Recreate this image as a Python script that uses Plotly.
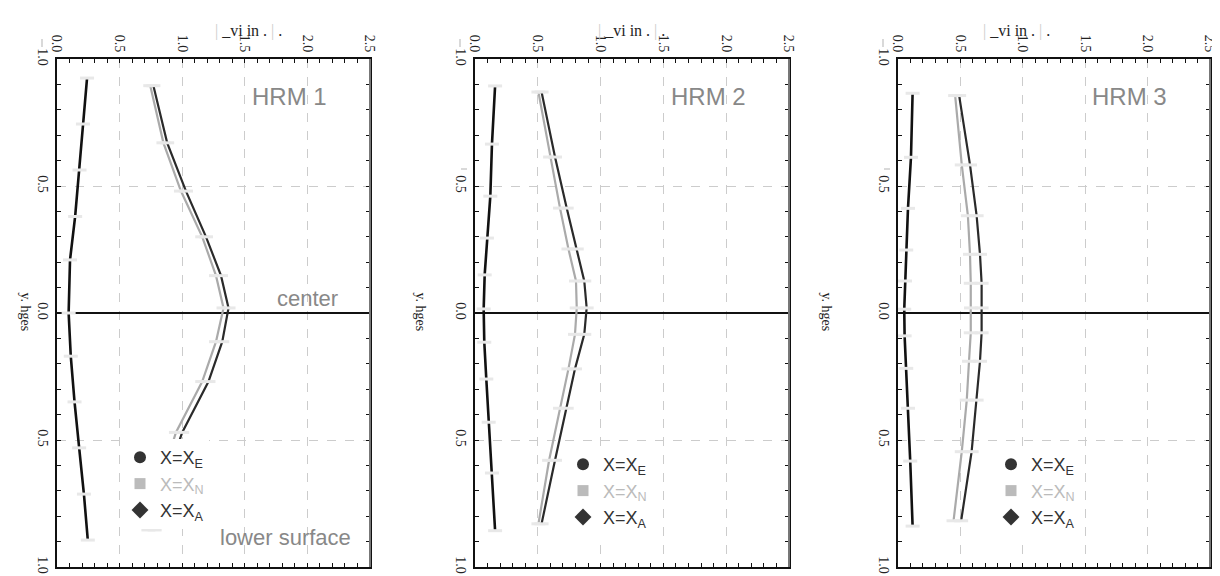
import plotly.graph_objects as go

# ---------------- data ----------------
panels = ["HRM 1", "HRM 2", "HRM 3"]
x_ticks = [0.0, 0.5, 1.0, 1.5, 2.0, 2.5]
x_ticktext = ["0.0", "0.5", "1.0", "1.5", "2.0", "2.5"]
y_ticks = [-1.0, -0.5, 0.0, 0.5, 1.0]
y_ticktext = ["1.0", "0.5", "0.0", "0.5", "1.0"]

p1_y_left = [0.925, 0.744, 0.563, 0.38, 0.209, 0.0, -0.17, -0.35, -0.531, -0.713, -0.894]
p1_x_left = [0.24, 0.207, 0.18, 0.145, 0.104, 0.093, 0.11, 0.14, 0.177, 0.215, 0.246]
p1_y_right = [0.895, 0.67, 0.48, 0.30, 0.147, 0.02, -0.113, -0.27, -0.47, -0.66, -0.854]
p1_dark = [0.77, 0.88, 1.03, 1.19, 1.31, 1.37, 1.32, 1.21, 1.0, 0.87, 0.78]
p1_gray = [0.745, 0.85, 0.99, 1.16, 1.27, 1.33, 1.27, 1.16, 0.95, 0.83, 0.73]

p2_y_left = [0.894, 0.665, 0.46, 0.295, 0.15, 0.016, -0.115, -0.26, -0.43, -0.63, -0.857]
p2_x_left = [0.16, 0.135, 0.122, 0.095, 0.077, 0.069, 0.074, 0.09, 0.109, 0.135, 0.16]
p2_y_right = [0.87, 0.614, 0.413, 0.252, 0.126, 0.02, -0.084, -0.22, -0.375, -0.58, -0.83]
p2_dark = [0.53, 0.637, 0.73, 0.81, 0.87, 0.889, 0.87, 0.796, 0.73, 0.637, 0.53]
p2_gray = [0.505, 0.598, 0.677, 0.744, 0.804, 0.81, 0.796, 0.744, 0.677, 0.59, 0.505]

p3_y_left = [0.865, 0.613, 0.412, 0.248, 0.126, 0.015, -0.09, -0.218, -0.375, -0.583, -0.839]
p3_x_left = [0.117, 0.104, 0.08, 0.066, 0.056, 0.05, 0.053, 0.066, 0.08, 0.098, 0.117]
p3_y_right = [0.856, 0.583, 0.383, 0.231, 0.117, 0.02, -0.078, -0.19, -0.343, -0.546, -0.818]
p3_dark = [0.49, 0.577, 0.63, 0.657, 0.67, 0.67, 0.67, 0.657, 0.63, 0.59, 0.506]
p3_gray = [0.458, 0.511, 0.56, 0.577, 0.583, 0.585, 0.583, 0.569, 0.551, 0.511, 0.445]

legend_names = ["X=X<sub>E</sub>", "X=X<sub>N</sub>", "X=X<sub>A</sub>"]

# ---------------- layout constants ----------------
OFF = 8
W, H = 1220 - OFF, 576 - OFF
T, B = 59 - OFF, 9
PH = H - T - B
px_domains = [(57, 370), (475, 789), (898, 1210)]
legend_px = [(120, 439), (563, 446), (991, 446)]
ylabel_px = [16, 411, 836]
title_px = [213, 631, 1052]

data_sets = [
    (p1_y_left, p1_x_left, p1_y_right, p1_dark, p1_gray),
    (p2_y_left, p2_x_left, p2_y_right, p2_dark, p2_gray),
    (p3_y_left, p3_x_left, p3_y_right, p3_dark, p3_gray),
]

fig = go.Figure()
SERIF = "Liberation Serif"
SANS = "Liberation Sans"

def pxx(p):
    return (p - OFF) / W

def py(p):
    return (H - B - (p - OFF)) / PH

mk = dict(symbol="line-ew", size=10, line=dict(width=3, color="#e8e8e8"))

for i, (yl, xl, yr, xd, xg) in enumerate(data_sets):
    n = "" if i == 0 else str(i + 1)
    xa, ya = "x" + n, "y" + n
    lg = "legend" + n
    fig.add_trace(go.Scatter(x=xl, y=yl, xaxis=xa, yaxis=ya, mode="lines+markers",
                             line=dict(color="#111111", width=2.6), marker=mk,
                             showlegend=False))
    fig.add_trace(go.Scatter(x=xg, y=yr, xaxis=xa, yaxis=ya, mode="lines+markers",
                             line=dict(color="#aaaaaa", width=2.2), marker=mk,
                             showlegend=False))
    fig.add_trace(go.Scatter(x=xd, y=yr, xaxis=xa, yaxis=ya, mode="lines+markers",
                             line=dict(color="#2a2a2a", width=2.2), marker=mk,
                             showlegend=False))
    styles = [("circle", "#333333", 12, "#333333"),
              ("square", "#bbbbbb", 11, "#bbbbbb"),
              ("diamond", "#333333", 13, "#333333")]
    for name, (sym, col, sz, tcol) in zip(legend_names, styles):
        fig.add_trace(go.Scatter(x=[None], y=[None], xaxis=xa, yaxis=ya, mode="markers",
                                 marker=dict(symbol=sym, color=col, size=sz),
                                 name='<span style="color:%s">%s</span>' % (tcol, name),
                                 legend=lg, showlegend=True))

    d0, d1 = px_domains[i]
    common = dict(showline=True, linecolor="#111111", linewidth=1.5, mirror="allticks",
                  ticks="inside", ticklen=4, tickcolor="#111111", automargin=False,
                  showgrid=True, gridcolor="#cccccc", griddash="dash", gridwidth=1,
                  tickangle=90, tickfont=dict(family=SERIF, size=14, color="#222222"))
    fig.layout["xaxis" + n] = dict(domain=[pxx(d0), pxx(d1)], anchor=ya, side="top",
                                   range=[0, 2.5], tickvals=x_ticks, ticktext=x_ticktext,
                                   zeroline=False,
                                   minor=dict(ticks="inside", dtick=0.1, ticklen=4,
                                              tickcolor="#111111", showgrid=False),
                                   **common)
    fig.layout["yaxis" + n] = dict(domain=[0, 1], anchor=xa, range=[-1, 1],
                                   tickvals=y_ticks, ticktext=y_ticktext,
                                   zeroline=True, zerolinecolor="#111111", zerolinewidth=1.5,
                                   minor=dict(ticks="inside", dtick=0.1, ticklen=4,
                                              tickcolor="#111111", showgrid=False),
                                   **common)
    lx, ly = legend_px[i]
    fig.layout[lg] = dict(x=pxx(lx), y=py(ly), xanchor="left", yanchor="top",
                          bgcolor="white", borderwidth=0,
                          font=dict(family=SANS, size=18, color="#333333"),
                          itemwidth=30, tracegroupgap=0)
    fig.add_shape(type="line", xref="paper", yref="paper", x0=pxx(d1), x1=pxx(d1),
                  y0=0, y1=1, line=dict(color="#777777", width=2))
    fig.add_annotation(text=panels[i], xref="paper", yref="paper",
                       x=pxx(d1 - 41), y=py(97), xanchor="right", yanchor="middle",
                       showarrow=False, font=dict(family=SANS, size=24, color="#888888"))
    fig.add_annotation(text="y. hges", xref="paper", yref="paper", x=pxx(ylabel_px[i]),
                       y=py(312), textangle=90, showarrow=False,
                       font=dict(family=SERIF, size=14, color="#222222"))
    fig.add_annotation(text='<span style="color:#cccccc">|</span> _vi in . '
                            '<span style="color:#cccccc">|</span> .',
                       xref="paper", yref="paper", x=pxx(title_px[i]), y=py(20),
                       showarrow=False, font=dict(family=SERIF, size=16, color="#222222"))
    # faint stray marks beside the tick labels
    fig.add_shape(type="line", xref="paper", yref="paper",
                  x0=pxx(d0 - 15), x1=pxx(d0 - 15), y0=py(39), y1=py(47),
                  line=dict(color="#cccccc", width=1.5))
    if i > 0:
        fig.add_shape(type="line", xref="paper", yref="paper",
                      x0=pxx(d0 - 14), x1=pxx(d0 - 8), y0=py(169), y1=py(169),
                      line=dict(color="#cccccc", width=1.5))

fig.add_annotation(text="center", xref="paper", yref="paper", x=pxx(340), y=py(298),
                   xanchor="right", showarrow=False,
                   font=dict(family=SANS, size=22, color="#888888"))
fig.add_annotation(text="lower surface", xref="paper", yref="paper", x=pxx(353), y=py(552),
                   xanchor="right", showarrow=False,
                   font=dict(family=SANS, size=22, color="#888888"))

fig.update_layout(width=W, height=H, margin=dict(l=0, r=0, t=T, b=B, autoexpand=False),
                  paper_bgcolor="white", plot_bgcolor="white")

fig.write_html("out.html")
